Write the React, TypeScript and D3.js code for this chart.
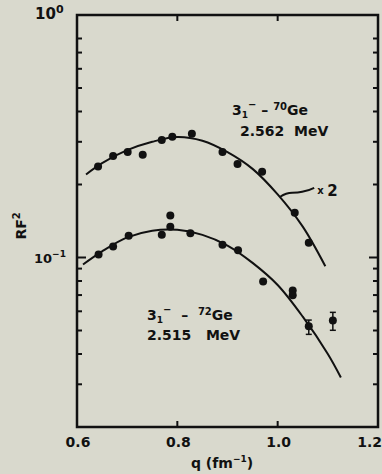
import * as d3 from "d3";

// upper set: 3- state in 70Ge (plotted x2)
const q70 = [0.642, 0.672, 0.701, 0.731, 0.769, 0.79, 0.829, 0.89, 0.92, 0.969, 1.034, 1.062];
const rf70 = [0.237, 0.262, 0.272, 0.265, 0.305, 0.315, 0.324, 0.272, 0.243, 0.226, 0.153, 0.115];

const fitQ70 = [0.618, 0.65, 0.7, 0.75, 0.8, 0.85, 0.9, 0.95, 1.0, 1.05, 1.095];
const fitRf70 = [0.22, 0.245, 0.277, 0.3, 0.314, 0.303, 0.272, 0.232, 0.182, 0.134, 0.092];

// lower set: 3- state in 72Ge
const q72 = [0.643, 0.672, 0.703, 0.769, 0.786, 0.786, 0.826, 0.89, 0.921, 0.971, 1.03, 1.03];
const rf72 = [0.1028, 0.111, 0.123, 0.124, 0.149, 0.134, 0.126, 0.113, 0.107, 0.0797, 0.0731, 0.0698];

const errQ72 = [1.062, 1.11];
const errRf72 = [0.052, 0.055];
const errLo72 = [0.0482, 0.0501];
const errHi72 = [0.0552, 0.0594];

const fitQ72 = [0.612, 0.65, 0.7, 0.75, 0.8, 0.85, 0.9, 0.95, 1.0, 1.05, 1.1, 1.126];
const fitRf72 = [0.0936, 0.106, 0.121, 0.129, 0.13, 0.124, 0.112, 0.095, 0.077, 0.057, 0.04, 0.032];

const xTicks = [0.6, 0.8, 1.0, 1.2];
const xTickLabels = ["0.6", "0.8", "1.0", "1.2"];
const yMinor = [0.02, 0.03, 0.04, 0.05, 0.06, 0.07, 0.08, 0.09, 0.2, 0.3, 0.4, 0.5, 0.6, 0.7, 0.8];

const W = 382;
const H = 474;
const left = 77;
const right = 378;
const top = 15;
const bottom = 427;

const x = d3.scaleLinear().domain([0.6, 1.2]).range([left, right]);
const y = d3.scaleLog().domain([0.02, 1]).range([bottom, top]);

const line = d3
  .line<[number, number]>()
  .x((d) => x(d[0]))
  .y((d) => y(d[1]))
  .curve(d3.curveCatmullRom);

const ink = "#111";
const font = "'DejaVu Sans', sans-serif";

export default function App() {
  const fit70 = fitQ70.map((q, i) => [q, fitRf70[i]] as [number, number]);
  const fit72 = fitQ72.map((q, i) => [q, fitRf72[i]] as [number, number]);

  // "x 2" pointer starts on the upper curve near q = 1.0
  const ax = x(1.005);
  const ay = y(0.178);

  return (
    <svg
      width={W}
      height={H}
      style={{ position: "absolute", left: 0, top: 0, background: "#d9d9cd" }}
      fontFamily={font}
      fontWeight="bold"
      fill={ink}
    >
      <rect x={0} y={0} width={W} height={H} fill="#d9d9cd" />

      {/* frame */}
      <rect x={left} y={top} width={right - left} height={bottom - top} fill="none" stroke={ink} strokeWidth={2.5} />

      {/* y ticks, both sides */}
      {yMinor.map((v) => (
        <g key={v} stroke={ink} strokeWidth={2}>
          <line x1={left} x2={left + 5} y1={y(v)} y2={y(v)} />
          <line x1={right} x2={right - 5} y1={y(v)} y2={y(v)} />
        </g>
      ))}
      <g stroke={ink} strokeWidth={2}>
        <line x1={left} x2={left + 9} y1={y(0.1)} y2={y(0.1)} />
        <line x1={right} x2={right - 9} y1={y(0.1)} y2={y(0.1)} />
      </g>

      {/* x ticks, top and bottom */}
      {[0.8, 1.0].map((v) => (
        <g key={v} stroke={ink} strokeWidth={2}>
          <line x1={x(v)} x2={x(v)} y1={top} y2={top + 6} />
          <line x1={x(v)} x2={x(v)} y1={bottom} y2={bottom - 6} />
        </g>
      ))}

      {xTicks.map((v, i) => (
        <text
          key={v}
          x={i === xTicks.length - 1 ? W : x(v) + 1}
          y={bottom + 20}
          fontSize={14}
          textAnchor={i === xTicks.length - 1 ? "end" : "middle"}
        >
          {xTickLabels[i]}
        </text>
      ))}
      <text x={222} y={468} fontSize={14} textAnchor="middle">
        q (fm
        <tspan fontSize={9} dy={-6}>−1</tspan>
        <tspan dy={6}>)</tspan>
      </text>

      <text x={35} y={y(1) + 4} fontSize={15}>
        10<tspan fontSize={11} dy={-6}>0</tspan>
      </text>
      <text x={34} y={y(0.1) + 6} fontSize={13}>
        10<tspan fontSize={9} dy={-6}>−1</tspan>
      </text>
      <text transform={`translate(26,${y(0.135)}) rotate(-90)`} fontSize={14} textAnchor="middle">
        RF<tspan fontSize={10} dy={-6}>2</tspan>
      </text>

      {/* fitted curves */}
      <path d={line(fit70) ?? ""} fill="none" stroke={ink} strokeWidth={2} />
      <path d={line(fit72) ?? ""} fill="none" stroke={ink} strokeWidth={2} />

      {q70.map((q, i) => (
        <circle key={"a" + i} cx={x(q)} cy={y(rf70[i])} r={4} />
      ))}
      {q72.map((q, i) => (
        <circle key={"b" + i} cx={x(q)} cy={y(rf72[i])} r={4} />
      ))}
      {errQ72.map((q, i) => (
        <g key={"e" + i} stroke={ink} strokeWidth={1.5}>
          <line x1={x(q)} x2={x(q)} y1={y(errLo72[i])} y2={y(errHi72[i])} />
          <line x1={x(q) - 3} x2={x(q) + 3} y1={y(errLo72[i])} y2={y(errLo72[i])} />
          <line x1={x(q) - 3} x2={x(q) + 3} y1={y(errHi72[i])} y2={y(errHi72[i])} />
          <circle cx={x(q)} cy={y(errRf72[i])} r={4} stroke="none" />
        </g>
      ))}

      {/* x2 pointer */}
      <path
        d={`M${ax},${ay} q6,-4 12,-4 q6,0 10,-1 q6,-1 12,-4`}
        fill="none"
        stroke={ink}
        strokeWidth={2}
      />
      <text x={ax + 37} y={ay - 3} fontSize={10}>x</text>
      <text x={ax + 47} y={ay - 1} fontSize={15}>2</text>

      {/* state labels */}
      <text x={232} y={115} fontSize={14}>
        3<tspan fontSize={9} dy={3}>1</tspan>
        <tspan fontSize={10} dy={-10}>−</tspan>
        <tspan dy={7}> – </tspan>
        <tspan fontSize={10} dy={-5}>70</tspan>
        <tspan dy={5}>Ge</tspan>
      </text>
      <text x={240} y={136} fontSize={14} xmlSpace="preserve">2.562  MeV</text>

      <text x={147} y={320} fontSize={14} xmlSpace="preserve">
        3<tspan fontSize={9} dy={3}>1</tspan>
        <tspan fontSize={10} dy={-10}>−</tspan>
        <tspan dy={7}>  –  </tspan>
        <tspan fontSize={10} dy={-5}>72</tspan>
        <tspan dy={5}>Ge</tspan>
      </text>
      <text x={147} y={340} fontSize={14} xmlSpace="preserve">2.515   MeV</text>
    </svg>
  );
}
